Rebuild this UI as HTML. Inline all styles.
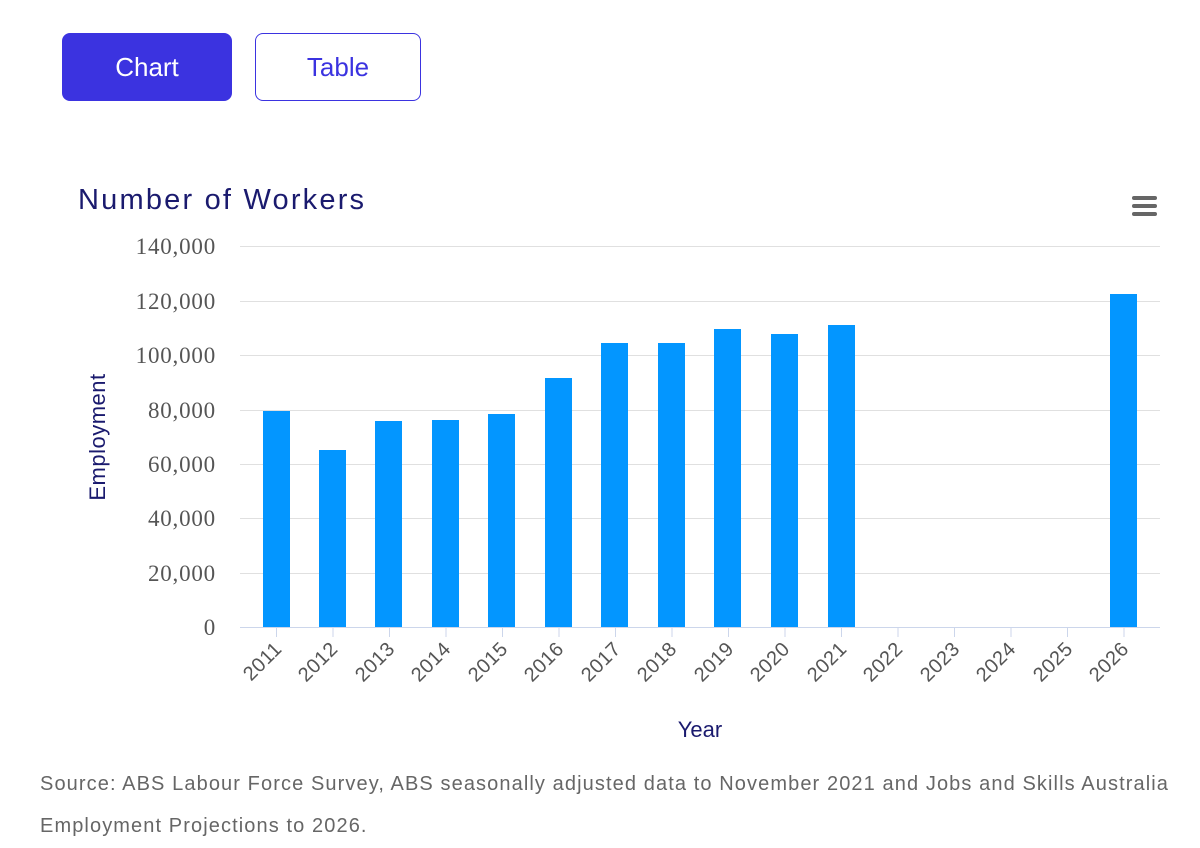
<!DOCTYPE html>
<html><head><meta charset="utf-8"><style>
body{margin:0;width:1200px;height:848px;background:#fff;font-family:"Liberation Sans",sans-serif;position:relative;overflow:hidden}
.btn{position:absolute;top:33px;height:68px;border-radius:8px;box-sizing:border-box;font-size:26px;display:flex;align-items:center;justify-content:center}
.src{position:absolute;left:40px;color:#666;font-size:20px;line-height:42px;top:763px;width:1160px;letter-spacing:1.1px;white-space:nowrap}
</style></head><body>
<div class="btn" style="left:62px;width:170px;background:#3b33e0;color:#fff">Chart</div>
<div class="btn" style="left:255px;width:166px;border:1.5px solid #3b33e0;color:#3b33e0">Table</div>
<svg width="1200" height="848" style="position:absolute;left:0;top:0">
<text x="78" y="209" font-size="29" fill="#1a1a6e" font-family="Liberation Sans" letter-spacing="2.2">Number of Workers</text>
<g fill="#666"><rect x="1132" y="196" width="25" height="4" rx="2"/><rect x="1132" y="204" width="25" height="4" rx="2"/><rect x="1132" y="212" width="25" height="4" rx="2"/></g>
<g stroke="#e0e0e0" stroke-width="1">
<line x1="240" x2="1160" y1="246.5" y2="246.5"/><line x1="240" x2="1160" y1="301.5" y2="301.5"/><line x1="240" x2="1160" y1="355.5" y2="355.5"/><line x1="240" x2="1160" y1="410.5" y2="410.5"/><line x1="240" x2="1160" y1="464.5" y2="464.5"/><line x1="240" x2="1160" y1="518.5" y2="518.5"/><line x1="240" x2="1160" y1="573.5" y2="573.5"/>
</g>
<line x1="240" x2="1160" y1="627.5" y2="627.5" stroke="#ccd6eb"/>
<g font-family="Liberation Serif" font-size="23" fill="#555" text-anchor="end" letter-spacing="0.8">
<text x="216" y="254">140,000</text><text x="216" y="309">120,000</text><text x="216" y="363">100,000</text><text x="216" y="418">80,000</text><text x="216" y="472">60,000</text><text x="216" y="526">40,000</text><text x="216" y="581">20,000</text><text x="216" y="635">0</text>
</g>
<text transform="translate(105,437) rotate(-90)" text-anchor="middle" font-size="22" fill="#1a1a6e" letter-spacing="0.5">Employment</text>
<text x="700" y="737" text-anchor="middle" font-size="22" fill="#1a1a6e">Year</text>
<g fill="#0396ff">
<rect x="263" y="411" width="27" height="216"/><rect x="319" y="450" width="27" height="177"/><rect x="375" y="421" width="27" height="206"/><rect x="432" y="420" width="27" height="207"/><rect x="488" y="414" width="27" height="213"/><rect x="545" y="378" width="27" height="249"/><rect x="601" y="343" width="27" height="284"/><rect x="658" y="343" width="27" height="284"/><rect x="714" y="329" width="27" height="298"/><rect x="771" y="334" width="27" height="293"/><rect x="828" y="325" width="27" height="302"/><rect x="1110" y="294" width="27" height="333"/>
</g>
<g stroke="#ccd6eb">
<line x1="276.5" x2="276.5" y1="627" y2="637"/><line x1="333" x2="333" y1="627" y2="637"/><line x1="389.5" x2="389.5" y1="627" y2="637"/><line x1="446" x2="446" y1="627" y2="637"/><line x1="502.5" x2="502.5" y1="627" y2="637"/><line x1="559" x2="559" y1="627" y2="637"/><line x1="615.5" x2="615.5" y1="627" y2="637"/><line x1="672" x2="672" y1="627" y2="637"/><line x1="728.5" x2="728.5" y1="627" y2="637"/><line x1="785" x2="785" y1="627" y2="637"/><line x1="841.5" x2="841.5" y1="627" y2="637"/><line x1="898" x2="898" y1="627" y2="637"/><line x1="954.5" x2="954.5" y1="627" y2="637"/><line x1="1011" x2="1011" y1="627" y2="637"/><line x1="1067.5" x2="1067.5" y1="627" y2="637"/><line x1="1124" x2="1124" y1="627" y2="637"/>
</g>
<g font-size="20" fill="#555" text-anchor="end" letter-spacing="0.5">
<text transform="translate(283,650) rotate(-45)">2011</text><text transform="translate(339,650) rotate(-45)">2012</text><text transform="translate(396,650) rotate(-45)">2013</text><text transform="translate(452,650) rotate(-45)">2014</text><text transform="translate(509,650) rotate(-45)">2015</text><text transform="translate(565,650) rotate(-45)">2016</text><text transform="translate(622,650) rotate(-45)">2017</text><text transform="translate(678,650) rotate(-45)">2018</text><text transform="translate(735,650) rotate(-45)">2019</text><text transform="translate(791,650) rotate(-45)">2020</text><text transform="translate(848,650) rotate(-45)">2021</text><text transform="translate(904,650) rotate(-45)">2022</text><text transform="translate(961,650) rotate(-45)">2023</text><text transform="translate(1017,650) rotate(-45)">2024</text><text transform="translate(1074,650) rotate(-45)">2025</text><text transform="translate(1130,650) rotate(-45)">2026</text>
</g>
</svg>
<div class="src">Source: ABS Labour Force Survey, ABS seasonally adjusted data to November 2021 and Jobs and Skills Australia<br>Employment Projections to 2026.</div>
</body></html>
